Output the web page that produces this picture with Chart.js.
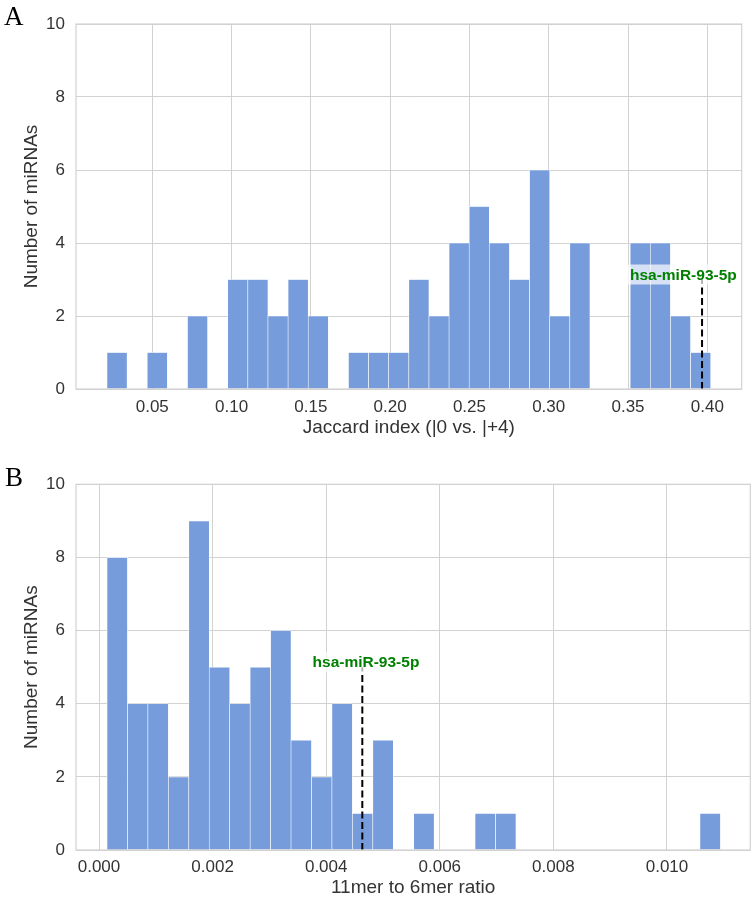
<!DOCTYPE html>
<html>
<head>
<meta charset="utf-8">
<script src="https://cdn.jsdelivr.net/npm/chart.js@4.4.0/dist/chart.umd.min.js"></script>
<style>
  body { margin: 0; background: #fff; }
  .panel { position: absolute; left: 0; width: 755px; }
</style>
</head>
<body>
<div class="panel" style="top:0;height:445px"><canvas id="chartA"></canvas></div>
<div class="panel" style="top:445px;height:454px"><canvas id="chartB"></canvas></div>
<script>
// panel A - Jaccard index histogram (30 bins)
const binStartA = 0.02144;
const binWidthA = 0.01269;
const countsA = [1, 0, 1, 0, 2, 0, 3, 3, 2, 3, 2, 0, 1, 1, 1, 3, 2, 4, 5, 4, 3, 6, 2, 4, 0, 0, 4, 4, 2, 1];
const xTicksA = [0.05, 0.10, 0.15, 0.20, 0.25, 0.30, 0.35, 0.40];
const xRangeA = [0.0019, 0.4217];
const markerA = 0.3967;     // hsa-miR-93-5p
const markerTopA = 3;
const labelPosA = [0.3849, 3];

// panel B - 11mer to 6mer ratio histogram (30 bins)
const binStartB = 0.000141;
const binWidthB = 0.00036;
const countsB = [8, 4, 4, 2, 9, 5, 4, 5, 6, 3, 2, 4, 1, 3, 0, 1, 0, 0, 1, 1, 0, 0, 0, 0, 0, 0, 0, 0, 0, 1];
const xTicksB = [0, 0.002, 0.004, 0.006, 0.008, 0.010];
const xRangeB = [-0.000405, 0.011467];
const markerB = 0.004636;
const markerTopB = 5;
const labelPosB = [0.0047, 5];

const yRange = [0, 10];
const markerName = 'hsa-miR-93-5p';

const barColour = 'rgb(119,156,220)';
const gridColour = '#d2d2d2';
const textColour = '#333333';
const sansFont = '"Liberation Sans", Arial, sans-serif';

const decor = {
    id: 'decor',
    afterDatasetsDraw(chart, args, opts) {
        const {ctx, scales: {x, y}} = chart;
        ctx.save();
        ctx.font = 'bold 15.5px ' + sansFont;
        const w = ctx.measureText(opts.text).width;
        const px = x.getPixelForValue(opts.pos[0]);
        const py = y.getPixelForValue(opts.pos[1]);
        ctx.fillStyle = 'rgba(255,255,255,0.7)';
        ctx.fillRect(px - w / 2 - 3, py - 15, w + 6, 20);
        ctx.fillStyle = '#008000';
        ctx.textAlign = 'center';
        ctx.textBaseline = 'alphabetic';
        ctx.fillText(opts.text, px, py);
        ctx.restore();
    },
    afterDraw(chart, args, opts) {
        const {ctx, chartArea: a} = chart;
        ctx.save();
        ctx.strokeStyle = gridColour;
        ctx.lineWidth = 1.2;
        ctx.strokeRect(a.left, a.top, a.right - a.left, a.bottom - a.top);
        ctx.fillStyle = '#000';
        ctx.font = '27px "Liberation Serif", "Times New Roman", serif';
        ctx.textBaseline = 'alphabetic';
        ctx.fillText(opts.letter, opts.letterX, opts.letterY);
        ctx.restore();
    }
};

function makeHist(canvasId, cfg) {
    const bars = cfg.counts.map((c, i) => ({x: cfg.binStart + cfg.binWidth * (i + 0.5), y: c}));
    const ctx = document.getElementById(canvasId).getContext('2d');
    return new Chart(ctx, {
        type: 'bar',
        data: {
            datasets: [{
                type: 'line',
                data: [{x: cfg.marker, y: 0}, {x: cfg.marker, y: cfg.markerTop}],
                borderColor: '#000',
                borderWidth: 2,
                borderDash: [7, 3.5],
                pointRadius: 0,
                order: 0
            }, {
                type: 'bar',
                data: bars,
                backgroundColor: barColour,
                borderColor: '#fff',
                borderWidth: {left: 0.6, right: 0.6, top: 0.6, bottom: 0},
                barPercentage: 1,
                categoryPercentage: 1,
                order: 1
            }]
        },
        options: {
            responsive: true,
            maintainAspectRatio: false,
            animation: false,
            layout: {padding: {left: 0, top: cfg.padTop, right: cfg.padRight, bottom: 0}},
            plugins: {
                legend: {display: false},
                tooltip: {enabled: false},
                decor: {text: markerName, pos: cfg.labelPos, letter: cfg.letter, letterX: cfg.letterX, letterY: cfg.letterY}
            },
            scales: {
                x: {
                    type: 'linear',
                    min: cfg.xRange[0],
                    max: cfg.xRange[1],
                    offset: false,
                    grid: {color: gridColour, offset: false, drawTicks: false},
                    border: {display: false},
                    afterBuildTicks: s => { s.ticks = cfg.xTicks.map(v => ({value: v})); },
                    ticks: {
                        color: textColour,
                        font: {family: sansFont, size: 17},
                        padding: cfg.tickPad,
                        maxRotation: 0,
                        autoSkip: false,
                        callback: v => v.toFixed(cfg.digits)
                    },
                    title: {
                        display: true,
                        text: cfg.xTitle,
                        color: textColour,
                        font: {family: sansFont, size: 19},
                        padding: {top: 0, bottom: cfg.titlePad}
                    },
                    afterFit: s => { s.height = cfg.xHeight; }
                },
                y: {
                    min: yRange[0],
                    max: yRange[1],
                    grid: {color: gridColour, drawTicks: false},
                    border: {display: false},
                    ticks: {
                        stepSize: 2,
                        color: textColour,
                        font: {family: sansFont, size: 17},
                        padding: 11
                    },
                    title: {
                        display: true,
                        text: 'Number of miRNAs',
                        color: textColour,
                        font: {family: sansFont, size: 19},
                        padding: {top: 20.1, bottom: 0}
                    },
                    afterFit: s => { s.width = 76; }
                }
            }
        },
        plugins: [decor]
    });
}

document.addEventListener('DOMContentLoaded', function () {
    makeHist('chartA', {
        counts: countsA, binStart: binStartA, binWidth: binWidthA,
        xTicks: xTicksA, xRange: xRangeA, digits: 2,
        marker: markerA, markerTop: markerTopA, labelPos: labelPosA,
        xTitle: 'Jaccard index (|0 vs. |+4)',
        padTop: 24, padRight: 13.3, xHeight: 56, tickPad: 8, titlePad: 6.2,
        letter: 'A', letterX: 4, letterY: 25
    });
    makeHist('chartB', {
        counts: countsB, binStart: binStartB, binWidth: binWidthB,
        xTicks: xTicksB, xRange: xRangeB, digits: 3,
        marker: markerB, markerTop: markerTopB, labelPos: labelPosB,
        xTitle: '11mer to 6mer ratio',
        padTop: 39.3, padRight: 4.7, xHeight: 49, tickPad: 7, titlePad: 0,
        letter: 'B', letterX: 5, letterY: 40.7
    });
});
</script>
</body>
</html>
